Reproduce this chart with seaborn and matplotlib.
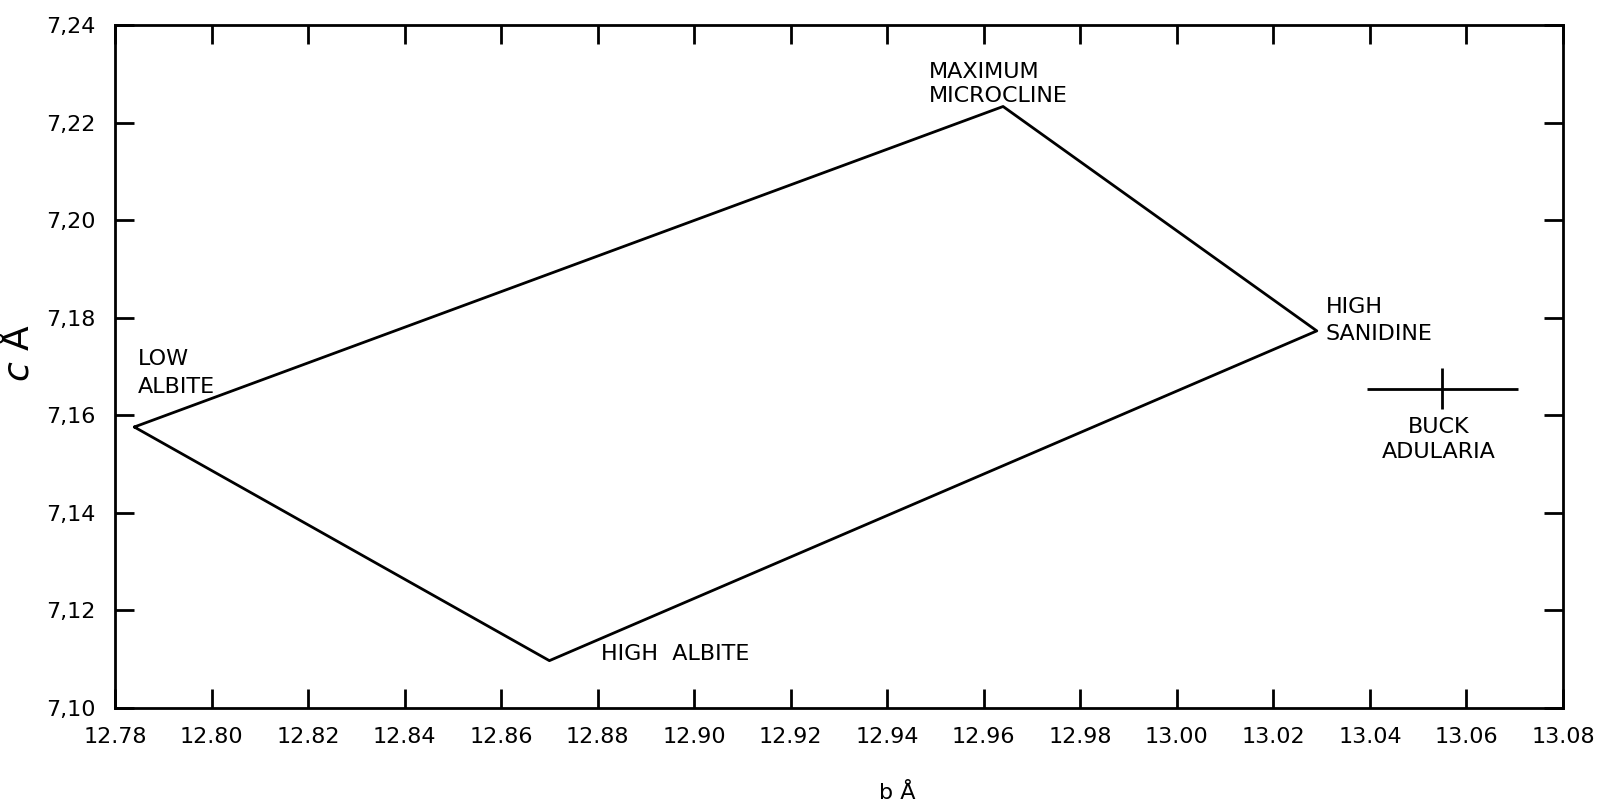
import numpy as np
import pandas as pd
import seaborn as sns
import matplotlib.pyplot as plt

# corner points of the feldspar field (b, c in Angstrom)
minerals = ['LOW ALBITE', 'MAXIMUM MICROCLINE', 'HIGH SANIDINE', 'HIGH ALBITE']
b_vals = [12.784, 12.964, 13.029, 12.870]
c_vals = [7.1576, 7.2233, 7.1773, 7.1097]

# Buck adularia with its uncertainty
adularia_b = 13.055
adularia_c = 7.1654
adularia_b_err = 0.0157
adularia_c_err = 0.0042

x_ticks = [12.78, 12.80, 12.82, 12.84, 12.86, 12.88, 12.90, 12.92, 12.94, 12.96,
           12.98, 13.00, 13.02, 13.04, 13.06, 13.08]
y_ticks = [7.10, 7.12, 7.14, 7.16, 7.18, 7.20, 7.22, 7.24]

sns.set_style("ticks")
plt.rcParams['font.family'] = ['DejaVu Sans']
plt.rcParams['text.color'] = 'black'
plt.rcParams['xtick.color'] = 'black'
plt.rcParams['ytick.color'] = 'black'
plt.rcParams['axes.labelcolor'] = 'black'
plt.rcParams['axes.edgecolor'] = 'black'

fig = plt.figure(figsize=(16.06, 8.07), dpi=100)
ax = fig.add_axes([0.0716, 0.1227, 0.9016, 0.8463])

# closed outline, order kept and no aggregation
df = pd.DataFrame({'b': b_vals + b_vals[:1], 'c': c_vals + c_vals[:1]})
sns.lineplot(data=df, x='b', y='c', sort=False, estimator=None,
             color='black', linewidth=2.0, ax=ax)

ax.errorbar([adularia_b], [adularia_c], xerr=[adularia_b_err], yerr=[adularia_c_err],
            fmt='none', ecolor='black', elinewidth=2.0, capsize=0)

ax.set_xlim(12.78, 13.08)
ax.set_ylim(7.10, 7.24)
ax.set_xticks(x_ticks)
ax.set_yticks(y_ticks)
ax.set_xticklabels([f'{v:.2f}' for v in x_ticks], fontsize=16)
ax.set_yticklabels([f'{v:.2f}'.replace('.', ',') for v in y_ticks], fontsize=16)
ax.tick_params(direction='in', length=14, width=2.0, top=True, right=True)
ax.tick_params(axis='x', pad=14)
ax.tick_params(axis='y', pad=14)
for s in ax.spines.values():
    s.set_linewidth(2.0)
    s.set_visible(True)

ax.set_xlabel('b Å', fontsize=16)
ax.xaxis.set_label_coords(0.54, -0.11)
ax.set_ylabel(r'$\mathit{c}$ Å', fontsize=26)
ax.yaxis.set_label_coords(-0.055, 0.52)

lab = dict(fontsize=16, color='black')
ax.text(12.7847, 7.1687, 'LOW\nALBITE', ha='left', va='center', linespacing=1.5, **lab)
ax.text(12.9486, 7.2279, 'MAXIMUM\nMICROCLINE', ha='left', va='center', linespacing=1.2, **lab)
ax.text(13.0309, 7.1794, 'HIGH\nSANIDINE', ha='left', va='center', linespacing=1.4, **lab)
ax.text(adularia_b - 0.0008, 7.1550, 'BUCK\nADULARIA', ha='center', va='center', linespacing=1.3, **lab)
ax.text(12.8807, 7.1110, 'HIGH  ALBITE', ha='left', va='center', **lab)

fig.savefig('out.png', dpi=100)
